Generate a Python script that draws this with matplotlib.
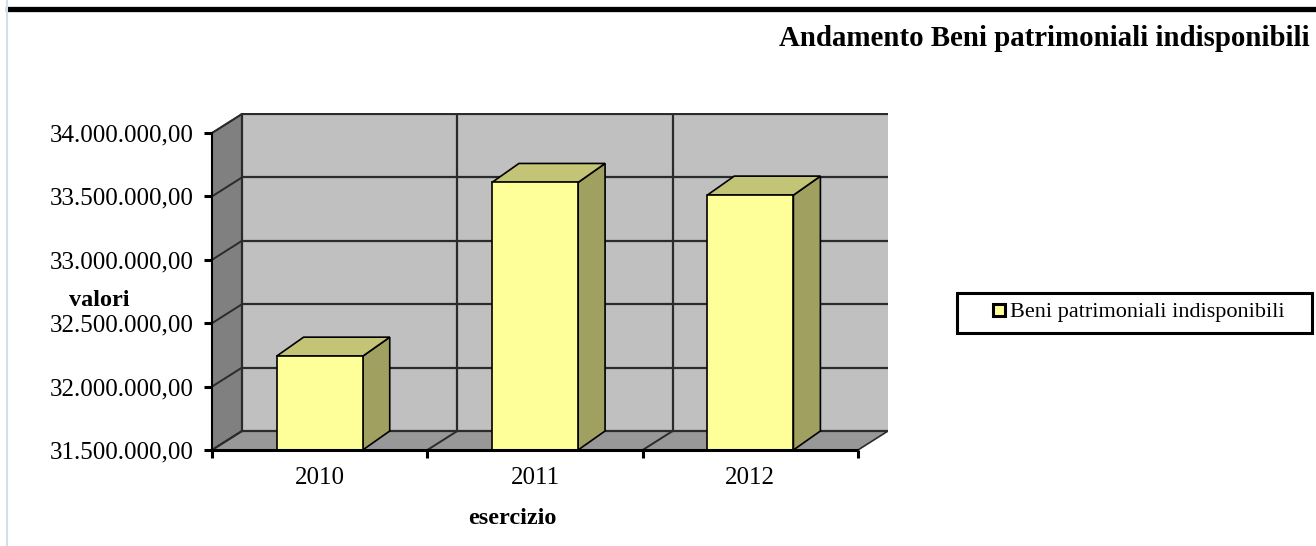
import numpy as np
import matplotlib.pyplot as plt
from matplotlib.patches import Polygon, Rectangle, Patch
from matplotlib.lines import Line2D
from matplotlib.ticker import FuncFormatter

# dati
anni = ["2010", "2011", "2012"]
valori = [32240000, 33610000, 33510000]
serie = "Beni patrimoniali indisponibili"
y_min, y_max, y_step = 31500000, 34000000, 500000

# colori stile Excel 3D
FRONTE = "#FFFF99"
TOP = "#C4C476"
LATO = "#A0A060"
PARETE = "#C0C0C0"
PARETE_SX = "#808080"
PAVIMENTO = "#989898"
GRIGLIA = "#2b2b2b"

plt.rcParams["font.family"] = ["Liberation Serif", "DejaVu Serif"]

W, H = 1316, 546
fig = plt.figure(figsize=(W / 100, H / 100), dpi=100)

# assi (in pixel della figura)
ax_l, ax_r, ax_b, ax_t = 212, 888, 450, 113
ax = fig.add_axes([ax_l / W, 1 - ax_b / H, (ax_r - ax_l) / W, (ax_b - ax_t) / H])

px_x = (858 - 212) / 3.0            # pixel per categoria
px_y = (450 - 133) / (y_max - y_min)  # pixel per unita'
DX = 30 / px_x
DY = 19 / px_y
BDX = 27 / px_x
larg = 0.4

x0, x1 = -0.5, len(anni) - 0.5
ax.set_xlim(x0, x0 + (ax_r - ax_l) / px_x)
ax.set_ylim(y_min, y_min + (ax_b - ax_t) / px_y)
ax.patch.set_visible(False)

# parete sinistra, parete di fondo, pavimento
ax.add_patch(Polygon([(x0, y_min), (x0 + DX, y_min + DY), (x0 + DX, y_max + DY), (x0, y_max)],
                     closed=True, fc=PARETE_SX, ec=GRIGLIA, lw=1.2, zorder=1))
ax.add_patch(Rectangle((x0 + DX, y_min + DY), x1 - x0, y_max - y_min,
                       fc=PARETE, ec="none", zorder=1))
ax.add_patch(Polygon([(x0, y_min), (x1, y_min), (x1 + DX, y_min + DY), (x0 + DX, y_min + DY)],
                     closed=True, fc=PAVIMENTO, ec="none", zorder=1))

# griglia orizzontale
tick_y = np.arange(y_min, y_max + 1, y_step)
for v in tick_y:
    ax.plot([x0 + DX, x1 + DX], [v + DY, v + DY], color=GRIGLIA, lw=1.6, zorder=2)
    ax.plot([x0, x0 + DX], [v, v + DY], color=GRIGLIA, lw=1.4, zorder=2)
# griglia verticale
for k in np.arange(x0, x1, 1.0):
    ax.plot([k + DX, k + DX], [y_min + DY, y_max + DY], color=GRIGLIA, lw=1.6, zorder=2)
    ax.plot([k, k + DX], [y_min, y_min + DY], color=GRIGLIA, lw=1.4, zorder=2)
ax.plot([x1, x1 + DX], [y_min, y_min + DY], color=GRIGLIA, lw=1.2, zorder=2)

# barre 3D
for i, v in enumerate(valori):
    xl, xr = i - larg / 2, i + larg / 2
    ax.add_patch(Polygon([(xr, y_min), (xr + BDX, y_min + DY), (xr + BDX, v + DY), (xr, v)],
                         closed=True, fc=LATO, ec="black", lw=1.2, zorder=3))
    ax.add_patch(Polygon([(xl, v), (xr, v), (xr + BDX, v + DY), (xl + BDX, v + DY)],
                         closed=True, fc=TOP, ec="black", lw=1.2, zorder=3))
    ax.add_patch(Rectangle((xl, y_min), larg, v - y_min, fc=FRONTE, ec="black", lw=1.2, zorder=4))

# assi
for s in ["top", "right"]:
    ax.spines[s].set_visible(False)
ax.spines["left"].set_bounds(y_min, y_max)
ax.spines["left"].set_linewidth(1.5)
ax.spines["left"].set_zorder(5)
ax.spines["bottom"].set_bounds(x0, x1)
ax.spines["bottom"].set_linewidth(2.2)
ax.spines["bottom"].set_linestyle((0, (1, 1)))
ax.spines["bottom"].set_zorder(5)

ax.set_yticks(tick_y)
ax.yaxis.set_major_formatter(FuncFormatter(
    lambda v, p: f"{v:,.2f}".replace(",", "X").replace(".", ",").replace("X", ".")))
ax.tick_params(axis="y", length=6, width=2.2, pad=7, labelsize=18)

ax.set_xticks(range(len(anni)))
ax.set_xticklabels(anni)
ax.set_xticks(np.arange(x0, x1 + 0.01, 1.0), minor=True)
ax.tick_params(axis="x", which="major", length=0, pad=12, labelsize=18)
ax.tick_params(axis="x", which="minor", length=6, width=2.2)

# titoli
fig.text(1310 / W, 1 - 39 / H, "Andamento Beni patrimoniali indisponibili",
         ha="right", va="center", fontsize=20.8, fontweight="bold")
fig.text(99 / W, 1 - 300 / H, "valori", ha="center", va="center",
         fontsize=17.5, fontweight="bold")
fig.text(512 / W, 1 - 519 / H, "esercizio", ha="center", va="center",
         fontsize=17.5, fontweight="bold")

# legenda
fig.patches.append(Rectangle((957 / W, 1 - 333 / H), 355 / W, 40 / H,
                             transform=fig.transFigure, fc="white", ec="black", lw=2.2))
fig.legend(handles=[Patch(fc=FRONTE, ec="black", lw=2.2, label=serie)],
           loc="center left", bbox_to_anchor=(973 / W, 1 - 313 / H), frameon=False,
           fontsize=16, handlelength=0.55, handleheight=0.45, handletextpad=0.2)

# cornice della pagina
fig.add_artist(Line2D([8 / W, 1], [1 - 8.5 / H, 1 - 8.5 / H], color="black", lw=3.8))
fig.add_artist(Line2D([6.5 / W, 6.5 / W], [0, 1], color="#d3deec", lw=1.5))

fig.savefig("out.png", dpi=100)
